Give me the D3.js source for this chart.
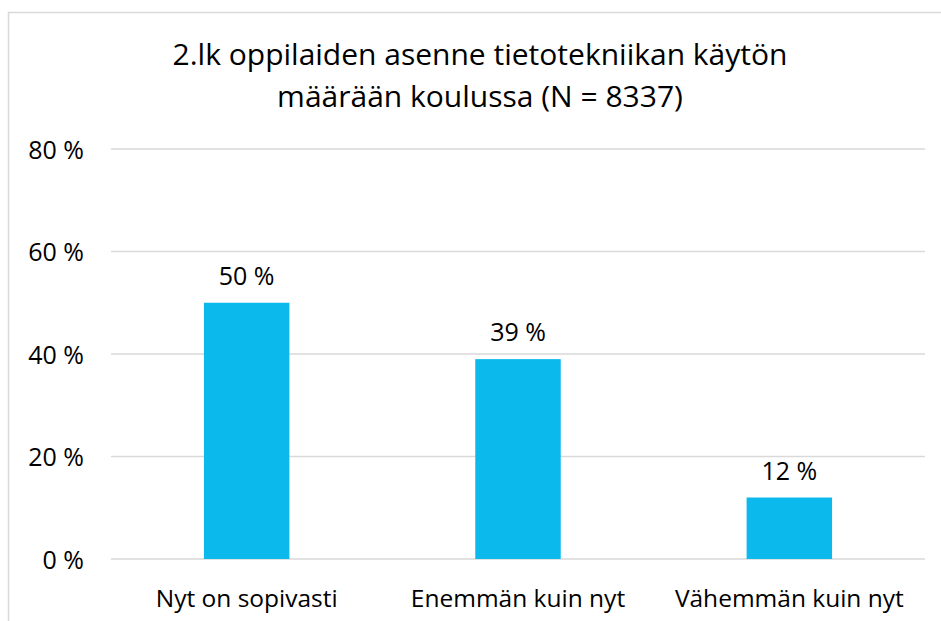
<!DOCTYPE html>
<html>
<head>
<meta charset="utf-8">
<script src="https://cdn.jsdelivr.net/npm/d3@7"></script>
<style>
  html, body { margin: 0; padding: 0; background: #fff; }
  svg { display: block; }
  text { font-family: "Open Sans", sans-serif; fill: #000; }
</style>
</head>
<body>
<script>
// Oppilaiden vastaukset (%)
const categories = ["Nyt on sopivasti", "Enemmän kuin nyt", "Vähemmän kuin nyt"];
const values = [50, 39, 12];
const valueLabels = ["50 %", "39 %", "12 %"];
const yTicks = [0, 20, 40, 60, 80];
const titleLines = ["2.lk oppilaiden asenne tietotekniikan käytön", "määrään koulussa (N = 8337)"];

const W = 941, H = 621;
const FONT = "'Open Sans', sans-serif";
const svg = d3.select("body").append("svg").attr("width", W).attr("height", H);

// chart area frame
svg.append("rect")
  .attr("x", 8.5).attr("y", 12.5)
  .attr("width", W + 10).attr("height", H + 10)
  .attr("fill", "#fff").attr("stroke", "#d9d9d9").attr("stroke-width", 1.5);

const plot = { left: 111, right: 925, top: 149, bottom: 559 };

const x = d3.scaleBand().domain(categories).range([plot.left, plot.right]).paddingInner(0.685).paddingOuter(0.3425);
const y = d3.scaleLinear().domain([0, 80]).range([plot.bottom, plot.top]);

// title
svg.append("g").selectAll("text").data(titleLines).join("text")
  .attr("x", 480).attr("y", (d, i) => 65 + i * 42)
  .attr("text-anchor", "middle")
  .style("font-size", "30px")
  .text(d => d);

// gridlines
svg.append("g").selectAll("line").data(yTicks).join("line")
  .attr("x1", plot.left).attr("x2", plot.right)
  .attr("y1", d => y(d)).attr("y2", d => y(d))
  .attr("stroke", "#d9d9d9").attr("stroke-width", 1.5);

// y axis labels
const yAxis = d3.axisLeft(y).tickValues(yTicks).tickSize(0).tickPadding(0).tickFormat(d => d + " %");
const gy = svg.append("g").attr("transform", "translate(84,0)").call(yAxis);
gy.select(".domain").remove();
gy.selectAll("text").style("font-size", "25px").attr("dy", "0.36em").style("font-family", FONT).attr("fill", "#000");

// x axis labels
const xAxis = d3.axisBottom(x).tickSize(0).tickPadding(0);
const gx = svg.append("g").attr("transform", `translate(0,${plot.bottom})`).call(xAxis);
gx.select(".domain").remove();
gx.selectAll("text").style("font-size", "24.5px").attr("y", 48).attr("dy", 0).style("font-family", FONT).attr("fill", "#000");

// bars
svg.append("g").selectAll("rect").data(values).join("rect")
  .attr("x", (d, i) => x(categories[i]))
  .attr("width", x.bandwidth())
  .attr("y", d => y(d))
  .attr("height", d => y(0) - y(d))
  .attr("fill", "#0cb9ec");

// value labels
svg.append("g").selectAll("text").data(values).join("text")
  .attr("x", (d, i) => x(categories[i]) + x.bandwidth() / 2)
  .attr("y", d => y(d) - 18)
  .attr("text-anchor", "middle")
  .style("font-size", "25px")
  .text((d, i) => valueLabels[i]);
</script>
</body>
</html>
